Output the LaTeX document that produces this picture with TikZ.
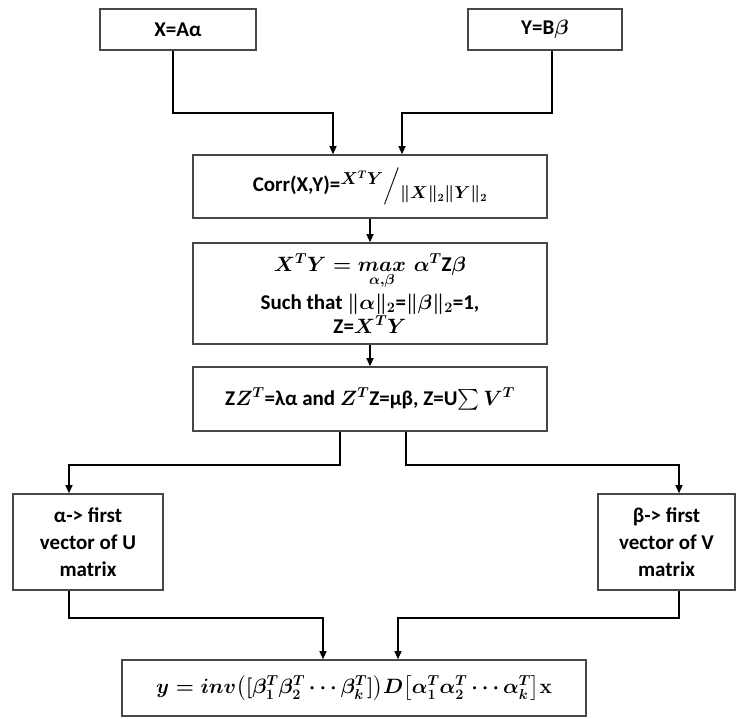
\documentclass[tikz,border=0pt]{standalone}
\usepackage{amsmath}
\usepackage{fontspec}
\setmainfont{Carlito}
\usetikzlibrary{arrows.meta}
\tikzset{
  box/.style={draw=black!72, line width=1.6pt, fill=white, align=center, inner sep=0pt,
    font=\fontsize{21}{27}\selectfont\bfseries\boldmath},
  conn/.style={line width=1.2pt, black, -{Triangle[length=8pt,width=7pt]}},
}
\newcommand{\smallmath}[1]{{\fontsize{16}{18}\selectfont$#1$}}
\begin{document}
\begin{tikzpicture}[x=1pt,y=-1pt]
\useasboundingbox (0,0) rectangle (736,718);
% boxes
\node[box, minimum width=156pt, minimum height=41pt] (X) at (178,29.5) {X=Aα};
\node[box, minimum width=154pt, minimum height=41pt] (Y) at (545,29.5) {Y=B$\beta$};
\node[box, minimum width=354pt, minimum height=63pt] (corr) at (370,186.5)
  {Corr(X,Y)=\raisebox{7pt}{\smallmath{X^{T}Y}}$\Big/$\raisebox{-7pt}{\smallmath{\|X\|_{2}\|Y\|_{2}}}};
\node[box, minimum width=354pt, minimum height=101pt] (mx) at (370,293.5)
  {$X^{T}Y=\mathop{max}\limits_{\alpha,\beta}\,\alpha^{T}\mbox{Z}\beta$\\[3pt]
   Such that $\|\alpha\|_2$=$\|\beta\|_2$=1,\\[-3pt]
   Z=$X^{T}Y$};
\node[box, minimum width=354pt, minimum height=64pt] (zz) at (370,399)
  {Z$Z^{T}$=λα and $Z^{T}$Z=μβ, Z=U$\sum V^{T}$};
\node[box, minimum width=150pt, minimum height=96pt] (a) at (88,542)
  {α-> first\\vector of U\\matrix};
\node[box, minimum width=137pt, minimum height=96pt] (b) at (666.5,542)
  {β-> first\\vector of V\\matrix};
\node[box, minimum width=464pt, minimum height=56pt] (out) at (354,688)
  {$y=inv\big([\beta_1^{T}\beta_2^{T}\cdots\beta_k^{T}]\big)D\big[\alpha_1^{T}\alpha_2^{T}\cdots\alpha_k^{T}\big]\mathbf{x}$};
% junction coordinates
\coordinate (j1) at (333,113);
\coordinate (j2) at (402,113);
\coordinate (j3) at (69,465);
\coordinate (j4) at (679,465);
\coordinate (j5) at (323,618);
\coordinate (j6) at (398,618);
% connectors
\draw[conn] ([xshift=-5pt]X.south) |- (j1) -- (corr.north -| j1);
\draw[conn] ([xshift=7pt]Y.south) |- (j2) -- (corr.north -| j2);
\draw[conn] (corr.south) -- (mx.north);
\draw[conn] (mx.south) -- (zz.north);
\draw[conn] ([xshift=-30pt]zz.south) |- (j3) -- (a.north -| j3);
\draw[conn] ([xshift=36pt]zz.south) |- (j4) -- (b.north -| j4);
\draw[conn] (a.south -| j3) |- (j5) -- (out.north -| j5);
\draw[conn] (b.south -| j4) |- (j6) -- (out.north -| j6);
\end{tikzpicture}
\end{document}
